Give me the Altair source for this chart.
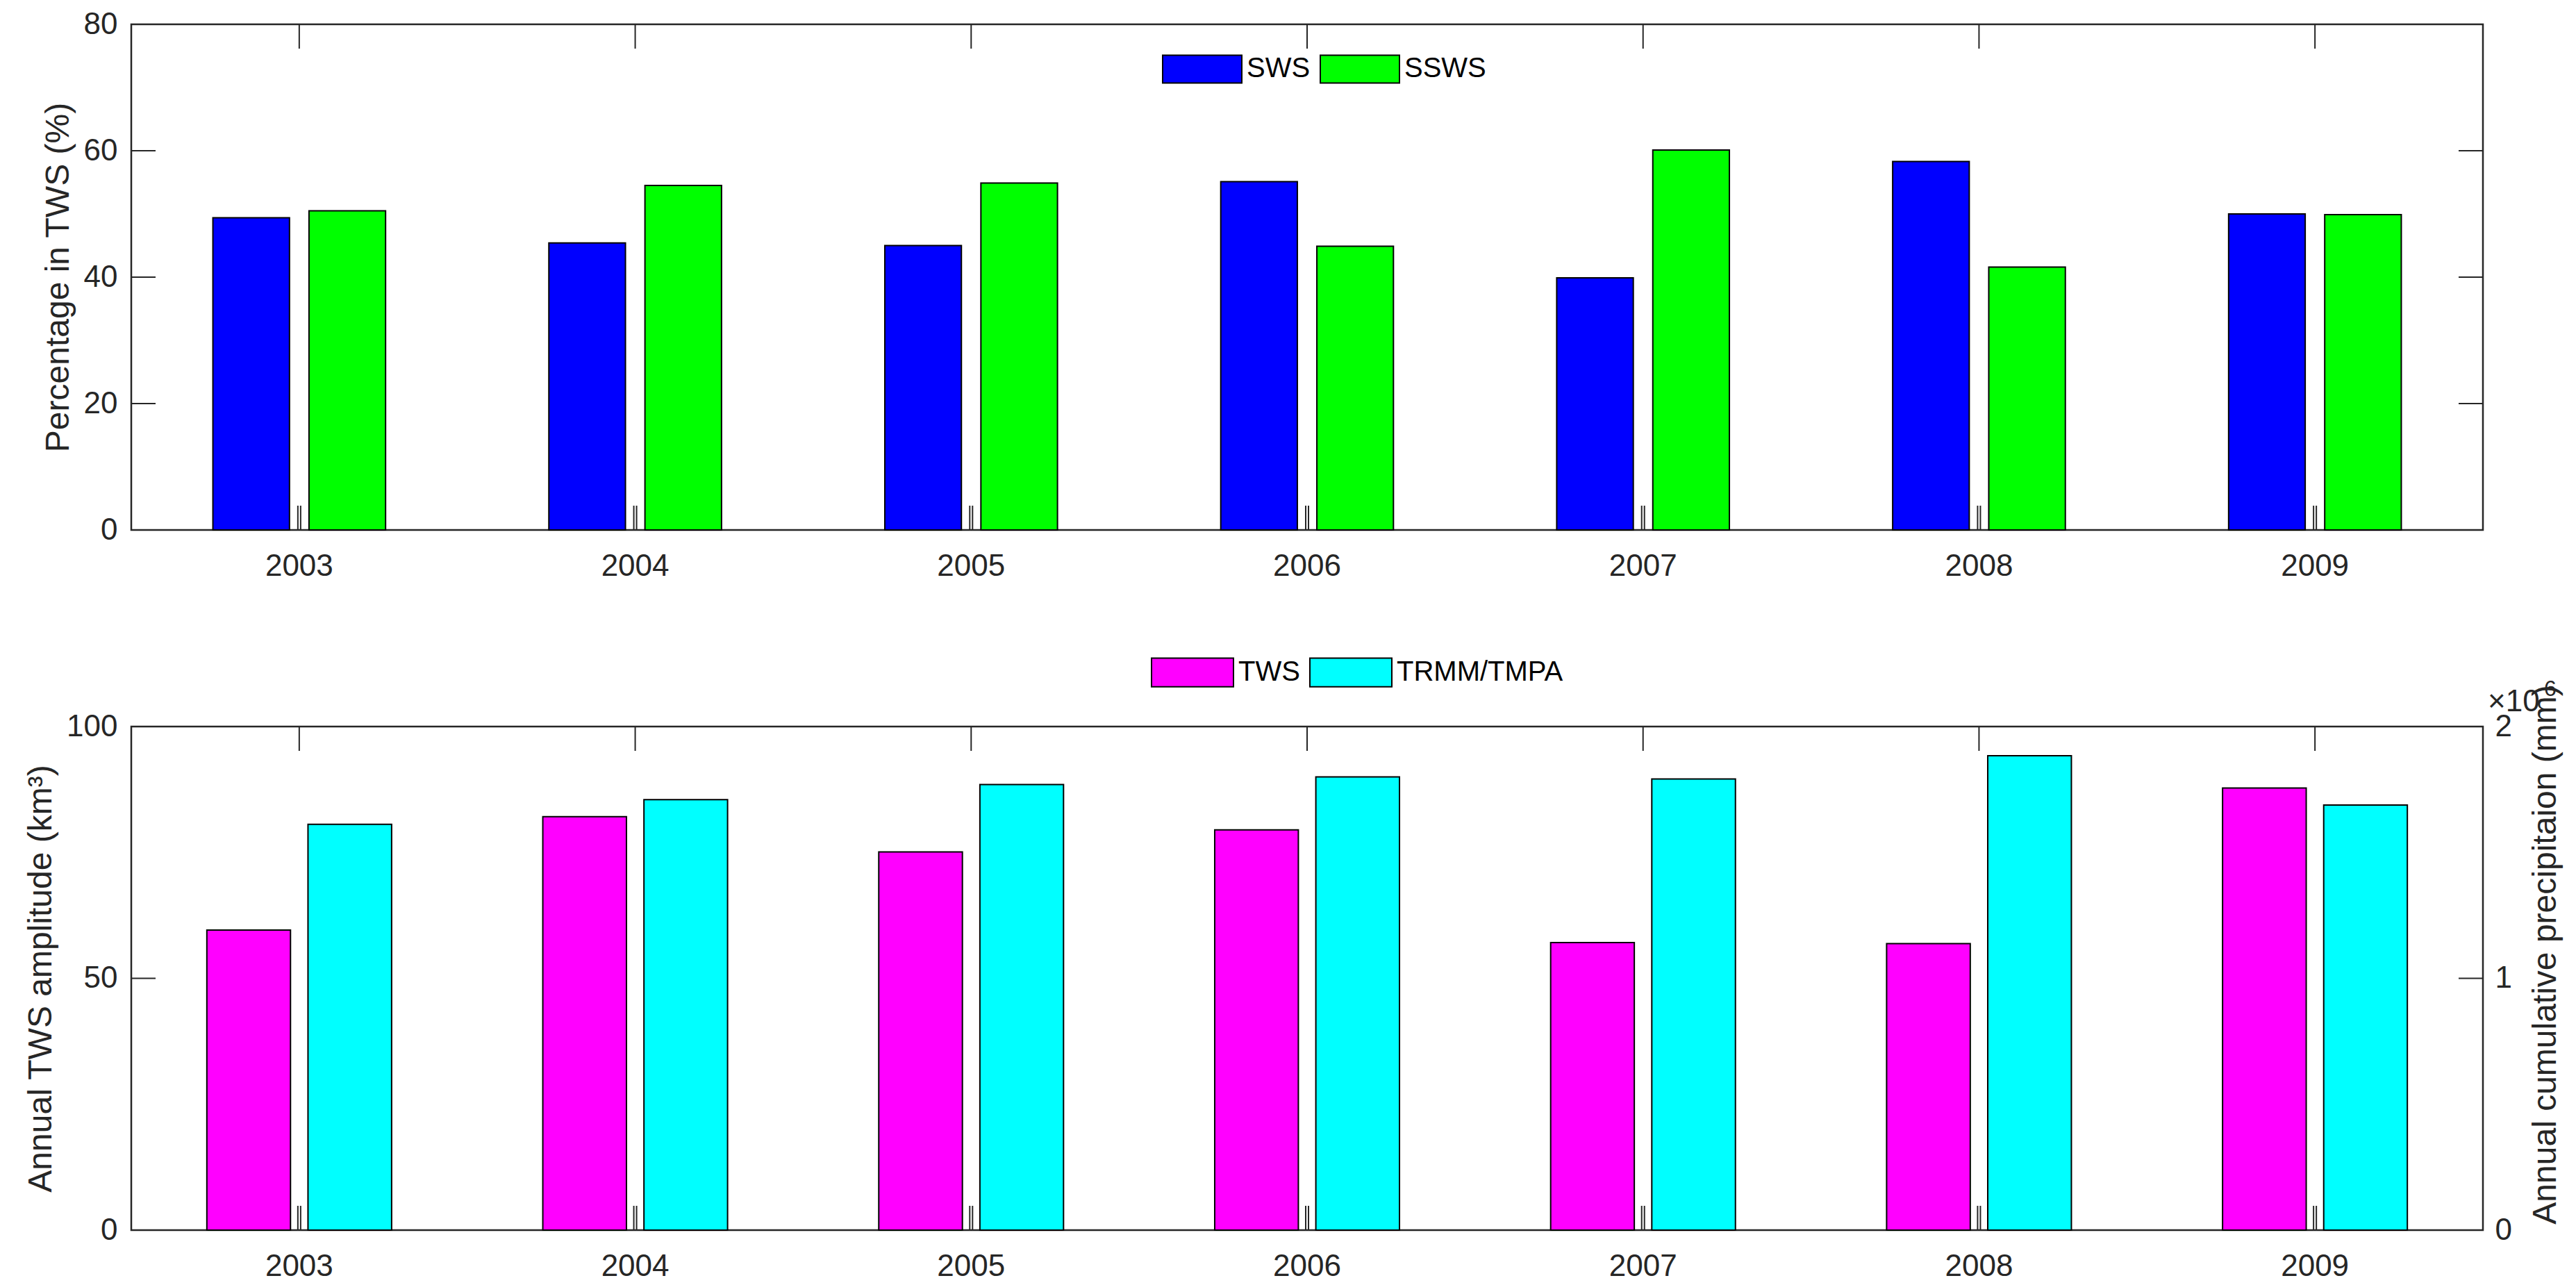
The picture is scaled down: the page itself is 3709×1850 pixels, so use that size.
import altair as alt
import pandas as pd

# ---------------- data ----------------
years = [2003, 2004, 2005, 2006, 2007, 2008, 2009]
sws = [49.4, 45.4, 45.0, 55.1, 39.9, 58.3, 50.0]
ssws = [50.5, 54.5, 54.9, 44.9, 60.1, 41.6, 49.9]
tws_amp = [59.6, 82.1, 75.1, 79.5, 57.1, 56.9, 87.8]
trmm_precip = [1612000, 1710000, 1770000, 1800000, 1792000, 1884000, 1688000]

top_series = ["SWS", "SSWS"]
top_colors = ["#0000ff", "#00ff00"]
bot_series = ["TWS", "TRMM/TMPA"]
bot_colors = ["#ff00ff", "#00ffff"]

top_yticks = [0, 20, 40, 60, 80]
left_yticks = [0, 50, 100]
right_yticks = [0, 1000000, 2000000]

# ---------------- style ----------------
W = 3386
H_TOP = 728
H_BOT = 725
TICK = 35
FONT = "Liberation Sans"
AX = "#262626"
TICKFS = 44
TITLEFS = 48
LEGFS = 40
SWATCH = "M-1,-0.351H1V0.351H-1Z"

top_df = pd.DataFrame({"year": years * 2,
                       "series": [top_series[0]] * len(years) + [top_series[1]] * len(years),
                       "value": sws + ssws})
tws_df = pd.DataFrame({"year": years, "series": bot_series[0], "value": tws_amp})
trmm_df = pd.DataFrame({"year": years, "series": bot_series[1], "value": trmm_precip})
year_df = pd.DataFrame({"year": years})

x_axis = alt.Axis(title=None, ticks=False, tickSize=0, domain=False, labelPadding=30,
                  labelAngle=0, labelFontSize=TICKFS, labelFont=FONT, labelColor=AX, grid=False)


def x_tick_layers(height, xs):
    layers = []
    for off in (-2, 2):
        layers.append(alt.Chart(year_df).mark_rule(color=AX, strokeWidth=2, xOffset=off).encode(
            x=alt.X("year:O", scale=xs, axis=x_axis),
            y=alt.value(height), y2=alt.value(height - TICK)))
    layers.append(alt.Chart(year_df).mark_rule(color=AX, strokeWidth=2).encode(
        x=alt.X("year:O", scale=xs, axis=x_axis),
        y=alt.value(0), y2=alt.value(TICK)))
    return layers


def y_tick_layers(ticks, ys, yaxis, sides):
    df = pd.DataFrame({"value": ticks})
    layers = []
    for s in sides:
        if s == "left":
            xe, x2e = alt.value(0), alt.value(TICK)
        else:
            xe, x2e = alt.value(W - TICK), alt.value(W)
        layers.append(alt.Chart(df).mark_rule(color=AX, strokeWidth=2).encode(
            y=alt.Y("value:Q", scale=ys, axis=yaxis), x=xe, x2=x2e))
    return layers


def make_legend(lx, ly, size):
    return alt.Legend(title=None, orient="none", legendX=lx, legendY=ly, direction="horizontal",
                      symbolType=SWATCH, symbolSize=size, symbolStrokeColor="black",
                      symbolStrokeWidth=2, symbolOpacity=1, labelFontSize=LEGFS, labelFont=FONT,
                      labelColor="black", labelOffset=6, columnPadding=10, padding=0,
                      labelLimit=0)


# ---------------- top panel ----------------
xs_top = alt.Scale(paddingInner=0.486, paddingOuter=0.243)
ys_top = alt.Scale(domain=[0, 80], nice=False, zero=True)
y_axis_top = alt.Axis(title="Percentage in TWS (%)", values=top_yticks, ticks=False, tickSize=0,
                      domain=False, labelPadding=20, titlePadding=12, grid=False)
leg_top = make_legend(1484, 6, 12996)

top_bars = alt.Chart(top_df).mark_bar(stroke="black", strokeWidth=2).encode(
    x=alt.X("year:O", scale=xs_top, axis=x_axis),
    xOffset=alt.XOffset("series:N", sort=top_series,
                        scale=alt.Scale(domain=top_series, paddingInner=0.203, paddingOuter=0)),
    y=alt.Y("value:Q", scale=ys_top, axis=y_axis_top),
    color=alt.Color("series:N", sort=top_series,
                    scale=alt.Scale(domain=top_series, range=top_colors), legend=leg_top),
)

top = alt.layer(top_bars, *x_tick_layers(H_TOP, xs_top),
                *y_tick_layers(top_yticks, ys_top, y_axis_top, ["left", "right"])
                ).properties(width=W, height=H_TOP)

# ---------------- bottom panel ----------------
xs_bot = alt.Scale(paddingInner=0.45, paddingOuter=0.225)
xo_bot = alt.Scale(domain=bot_series, paddingInner=0.173, paddingOuter=0)
ys_left = alt.Scale(domain=[0, 100], nice=False, zero=True)
ys_right = alt.Scale(domain=[0, 2000000], nice=False, zero=True)
y_axis_left = alt.Axis(title="Annual TWS amplitude (km³)", values=left_yticks, ticks=False,
                       tickSize=0, domain=False, labelPadding=20, titlePadding=12, grid=False)
y_axis_right = alt.Axis(orient="right", title="Annual cumulative precipitaion (mm)",
                        values=right_yticks, labelExpr="format(datum.value / 1000000, 'd')",
                        ticks=False, tickSize=0, domain=False, labelPadding=17, titlePadding=25,
                        titleAngle=270, titleBaseline="top", titleAlign="center", titleY=328,
                        grid=False)
leg_bot = make_legend(1468, -138, 13924)
color_bot = alt.Scale(domain=bot_series, range=bot_colors)

tws_bars = alt.Chart(tws_df).mark_bar(stroke="black", strokeWidth=2).encode(
    x=alt.X("year:O", scale=xs_bot, axis=x_axis),
    xOffset=alt.XOffset("series:N", sort=bot_series, scale=xo_bot),
    y=alt.Y("value:Q", scale=ys_left, axis=y_axis_left),
    color=alt.Color("series:N", sort=bot_series, scale=color_bot, legend=leg_bot),
)
trmm_bars = alt.Chart(trmm_df).mark_bar(stroke="black", strokeWidth=2).encode(
    x=alt.X("year:O", scale=xs_bot, axis=x_axis),
    xOffset=alt.XOffset("series:N", sort=bot_series, scale=xo_bot),
    y=alt.Y("value:Q", scale=ys_right, axis=y_axis_right),
    color=alt.Color("series:N", sort=bot_series, scale=color_bot, legend=leg_bot),
)

exp_base = alt.Chart(pd.DataFrame({"t": ["×10"]})).mark_text(
    align="left", baseline="alphabetic", fontSize=TICKFS, font=FONT, color=AX).encode(
    x=alt.value(W + 7), y=alt.value(-22), text="t:N")
exp_pow = alt.Chart(pd.DataFrame({"t": ["6"]})).mark_text(
    align="left", baseline="alphabetic", fontSize=32, font=FONT, color=AX).encode(
    x=alt.value(W + 88), y=alt.value(-44), text="t:N")

left_group = alt.layer(tws_bars, *x_tick_layers(H_BOT, xs_bot),
                       *y_tick_layers(left_yticks, ys_left, y_axis_left, ["left"]))
right_group = alt.layer(trmm_bars,
                        *y_tick_layers(right_yticks, ys_right, y_axis_right, ["right"]),
                        exp_base, exp_pow)

bottom = alt.layer(left_group, right_group).resolve_scale(y="independent").properties(
    width=W, height=H_BOT)

chart = alt.vconcat(top, bottom, spacing=283, bounds="flush").resolve_scale(
    color="independent", x="independent", xOffset="independent", y="independent"
).configure_view(stroke=AX, strokeWidth=2.5).configure_axis(
    labelFont=FONT, titleFont=FONT, labelFontSize=TICKFS, titleFontSize=TITLEFS,
    labelColor=AX, titleColor=AX, titleFontWeight="normal"
).properties(padding={"left": 26, "top": 3, "right": 5, "bottom": 5}, background="white")

chart.save("out.html", embed_options={"renderer": "svg", "actions": False})
